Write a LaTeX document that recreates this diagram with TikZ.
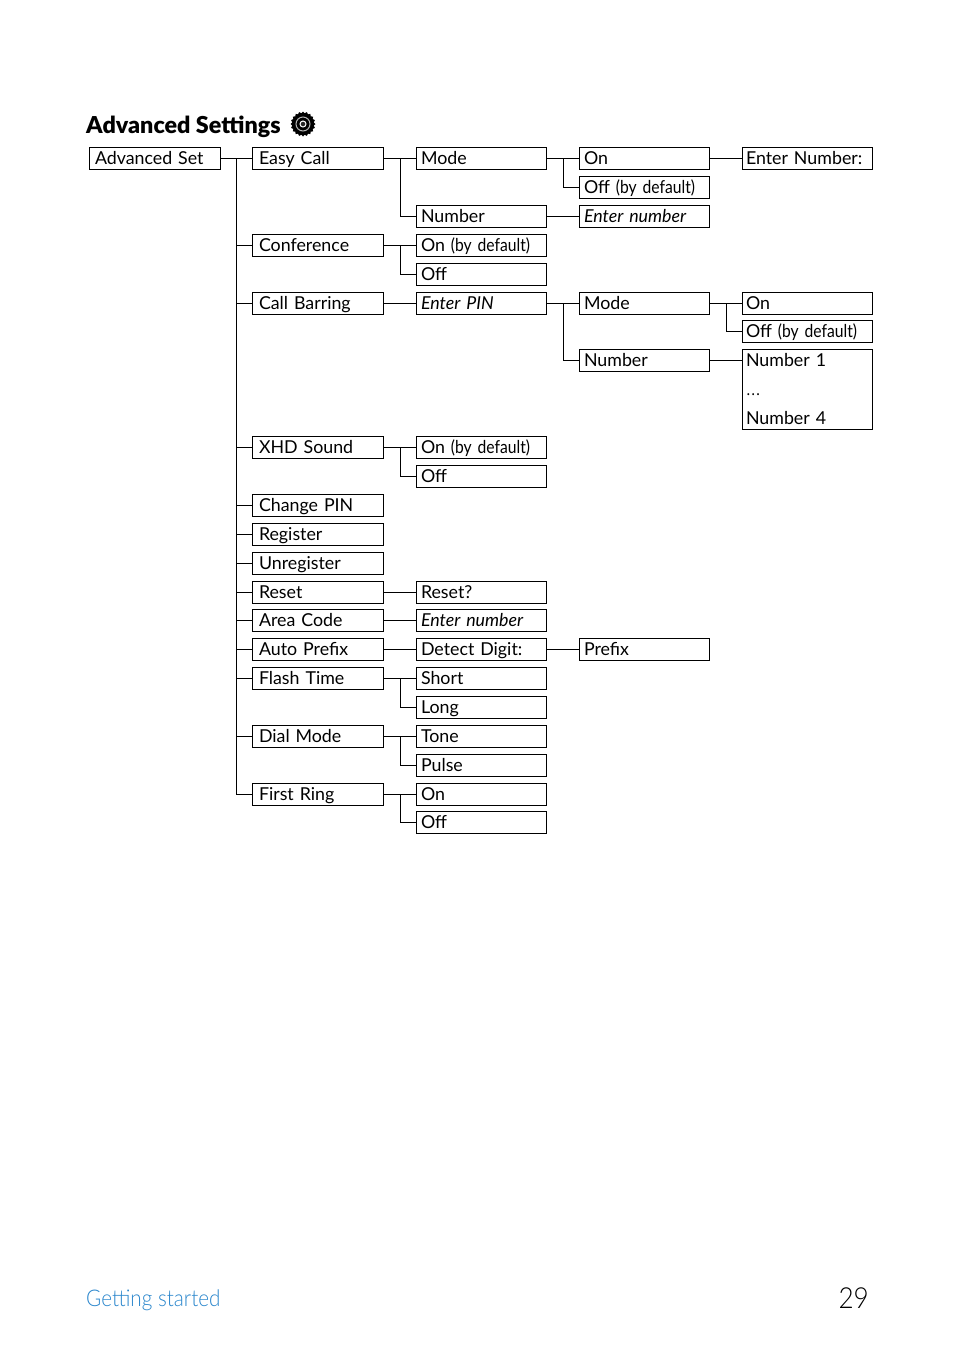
\documentclass[tikz,border=0pt]{standalone}
\usepackage{fontspec}
\setmainfont{Lato}
\newfontfamily\lightfont[FakeStretch=0.9]{Lato Light}
\newfontfamily\heavyfont{Lato Black}
\newfontfamily\narrowfont[FakeStretch=0.88]{Lato}
\newcommand{\bydefault}{{\narrowfont (by default)}}
\usetikzlibrary{shapes.geometric}
\definecolor{footblue}{HTML}{2A86CC}
\tikzset{
  cell/.style={draw=black,line width=0.9pt,rectangle,minimum height=22pt,inner ysep=0pt,text height=15pt,text depth=2pt,align=left,font=\fontsize{17.8}{29}\selectfont,anchor=center},
  cola/.style={cell,inner xsep=6pt,text width=119pt},
  colb/.style={cell,inner xsep=7pt,text width=117pt},
  colc/.style={cell,inner xsep=5pt,text width=120pt},
  cold/.style={cell,inner xsep=5pt,text width=120pt},
  cole/.style={cell,inner xsep=4pt,text width=122pt},
  tallbox/.style={draw=black,line width=0.9pt,rectangle,inner xsep=4pt,inner ysep=0pt,text width=122pt,minimum height=80pt,align=left,font=\fontsize{17.8}{29}\selectfont},
  link/.style={draw=black,line width=0.9pt},
  title/.style={inner sep=0pt,anchor=base west,font=\heavyfont\fontsize{23.3}{26}\selectfont},
}
\begin{document}
\begin{tikzpicture}[x=1pt,y=-1pt]
\useasboundingbox (0,0) rectangle (954,1353);
\node[title] (ttl) at (86,133) {Advanced Settings};
% gear icon
\node[star,star points=20,star point ratio=1.15,fill=black,minimum size=25pt,inner sep=0pt] (gear) at (303,124) {};
\node[circle,draw=white!70!black,line width=1pt,fill=black,minimum size=14pt,inner sep=0pt] (gearring) at (303,124) {};
\node[circle,draw=white,line width=1pt,fill=black!85,minimum size=6pt,inner sep=0pt] (gearhub) at (303,124) {};
% column 0
\node[cola] (adv) at (154.5,158) {Advanced Set};
% column 1
\node[colb] (easy) at (317.5,158) {Easy Call};
\node[colb] (conf) at (317.5,245) {Conference};
\node[colb] (bar) at (317.5,303) {Call Barring};
\node[colb] (xhd) at (317.5,447) {XHD Sound};
\node[colb] (pin) at (317.5,505) {Change PIN};
\node[colb] (reg) at (317.5,534) {Register};
\node[colb] (unreg) at (317.5,563) {Unregister};
\node[colb] (reset) at (317.5,592) {Reset};
\node[colb] (area) at (317.5,620) {Area Code};
\node[colb] (auto) at (317.5,649) {Auto Prefix};
\node[colb] (flash) at (317.5,678) {Flash Time};
\node[colb] (dial) at (317.5,736) {Dial Mode};
\node[colb] (ring) at (317.5,794) {First Ring};
% column 2
\node[colc] (mode) at (481,158) {Mode};
\node[colc] (num) at (481,216) {Number};
\node[colc] (confon) at (481,245) {On \bydefault};
\node[colc] (confoff) at (481,274) {Off};
\node[colc] (epin) at (481,303) {\itshape Enter PIN};
\node[colc] (xhdon) at (481,447) {On \bydefault};
\node[colc] (xhdoff) at (481,476) {Off};
\node[colc] (resetq) at (481,592) {Reset?};
\node[colc] (areanum) at (481,620) {\itshape Enter number};
\node[colc] (detect) at (481,649) {Detect Digit:};
\node[colc] (short) at (481,678) {Short};
\node[colc] (long) at (481,707) {Long};
\node[colc] (tone) at (481,736) {Tone};
\node[colc] (pulse) at (481,765) {Pulse};
\node[colc] (ringon) at (481,794) {On};
\node[colc] (ringoff) at (481,822) {Off};
% column 3
\node[cold] (on) at (644,158) {On};
\node[cold] (off) at (644,187) {Off \bydefault};
\node[cold] (enum) at (644,216) {\itshape Enter number};
\node[cold] (bmode) at (644,303) {Mode};
\node[cold] (bnum) at (644,360) {Number};
\node[cold] (prefix) at (644,649) {Prefix};
% column 4
\node[cole] (enter) at (807,158) {Enter Number:};
\node[cole] (bon) at (807,303) {On};
\node[cole] (boff) at (807,331) {Off \bydefault};
\node[tallbox] (nums) at (807,389) {Number 1\\{\lightfont\fontsize{22}{29}\selectfont\dots}\\Number 4};
% junctions
\coordinate (j0) at (236.5,158);
\coordinate (j1) at (400,158);
\coordinate (j2) at (400,245);
\coordinate (j3) at (563,158);
\coordinate (j4) at (563,303);
\coordinate (j5) at (726,303);
\coordinate (j6) at (400,447);
\coordinate (j7) at (400,678);
\coordinate (j8) at (400,736);
\coordinate (j9) at (400,794);
% connectors
\draw[link] (adv) -- (easy);
\foreach \t in {conf,bar,xhd,pin,reg,unreg,reset,area,auto,flash,dial,ring}
  \draw[link] (j0) |- (\t.west);
\draw[link] (easy) -- (mode);
\draw[link] (j1) |- (num.west);
\draw[link] (conf) -- (confon);
\draw[link] (j2) |- (confoff.west);
\draw[link] (bar) -- (epin);
\draw[link] (xhd) -- (xhdon);
\draw[link] (j6) |- (xhdoff.west);
\draw[link] (reset) -- (resetq);
\draw[link] (area) -- (areanum);
\draw[link] (auto) -- (detect);
\draw[link] (flash) -- (short);
\draw[link] (j7) |- (long.west);
\draw[link] (dial) -- (tone);
\draw[link] (j8) |- (pulse.west);
\draw[link] (ring) -- (ringon);
\draw[link] (j9) |- (ringoff.west);
\draw[link] (mode) -- (on);
\draw[link] (j3) |- (off.west);
\draw[link] (num) -- (enum);
\draw[link] (epin) -- (bmode);
\draw[link] (j4) |- (bnum.west);
\draw[link] (detect) -- (prefix);
\draw[link] (on) -- (enter);
\draw[link] (bmode) -- (bon);
\draw[link] (j5) |- (boff.west);
\draw[link] (bnum.east) -- (nums.west |- bnum.east);
% footer
\node[inner sep=0pt,anchor=base west,text=footblue,font=\lightfont\fontsize{23}{27}\selectfont] (foot) at (86,1306) {Getting started};
\node[inner sep=0pt,anchor=base east,font=\lightfont\fontsize{29}{33}\selectfont] (page) at (869,1308) {29};
\end{tikzpicture}
\end{document}
